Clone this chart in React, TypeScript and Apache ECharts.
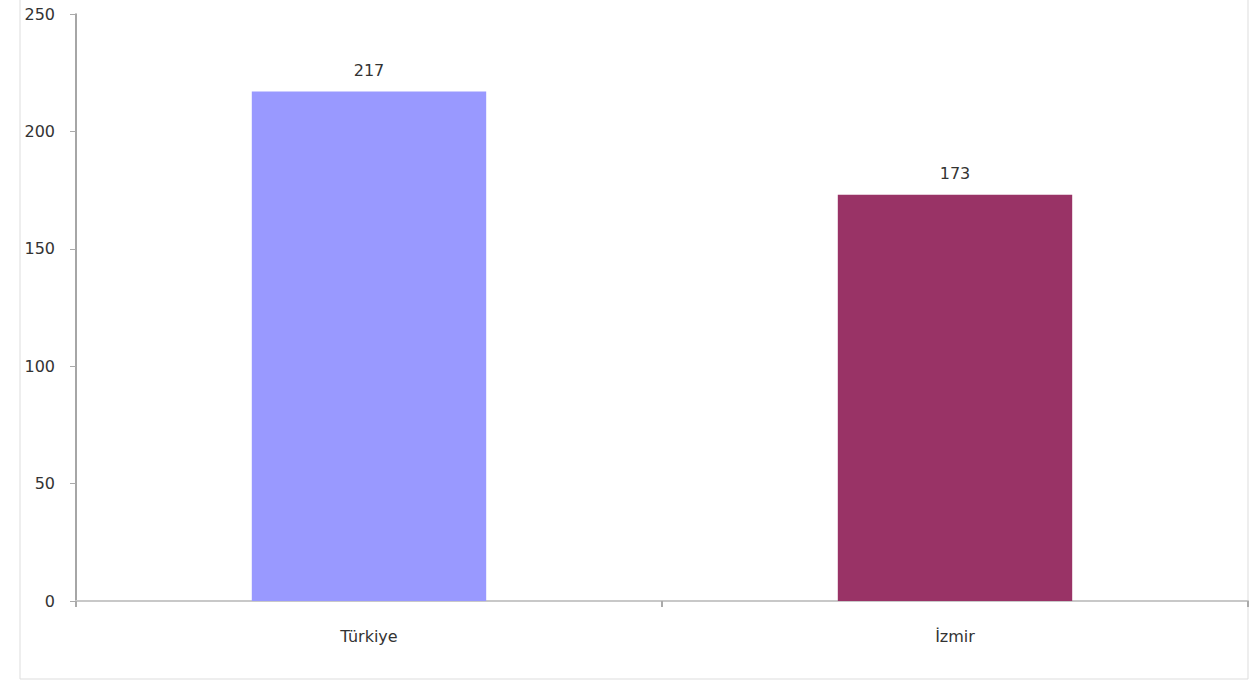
import React, { useEffect, useRef } from "react";
import * as echarts from "echarts";

const categories = ["Türkiye", "İzmir"];
const values = [217, 173];
const barColors = ["#9999ff", "#993366"];
const yTicks = { min: 0, max: 250, interval: 50 };

export default function App() {
  const ref = useRef<HTMLDivElement>(null);
  useEffect(() => {
    if (!ref.current) return;
    const chart = echarts.init(ref.current, null, { renderer: "svg" });
    chart.setOption({
      animation: false,
      backgroundColor: "#ffffff",
      textStyle: { fontFamily: "'DejaVu Sans', sans-serif" },
      graphic: [
        {
          type: "rect",
          shape: { x: 20, y: -10, width: 1228, height: 689 },
          style: { fill: "none", stroke: "#dddddd", lineWidth: 1 },
          silent: true,
          z: -1,
        },
      ],
      grid: { left: 76, right: 1, top: 14, bottom: 80, containLabel: false },
      xAxis: {
        type: "category",
        data: categories,
        axisLine: { show: true, lineStyle: { color: "#c8c8c8", width: 2 } },
        axisTick: { show: true, alignWithLabel: false, length: 6, lineStyle: { color: "#aaaaaa", width: 2 } },
        axisLabel: { color: "#333333", fontSize: 16, margin: 27 },
      },
      yAxis: {
        type: "value",
        min: yTicks.min,
        max: yTicks.max,
        interval: yTicks.interval,
        splitLine: { show: false },
        axisLine: { show: true, lineStyle: { color: "#888888", width: 1.5 } },
        axisTick: { show: true, length: 6, lineStyle: { color: "#aaaaaa" } },
        axisLabel: { color: "#333333", fontSize: 16, margin: 21 },
      },
      series: [
        {
          type: "bar",
          barWidth: "40%",
          data: values.map((v, i) => ({ value: v, itemStyle: { color: barColors[i] } })),
          label: {
            show: true,
            position: "top",
            distance: 13,
            color: "#333333",
            fontSize: 16,
          },
        },
      ],
    });
    return () => chart.dispose();
  }, []);
  return (
    <div
      ref={ref}
      style={{ position: "fixed", left: 0, top: 0, width: 1249, height: 681 }}
    />
  );
}
